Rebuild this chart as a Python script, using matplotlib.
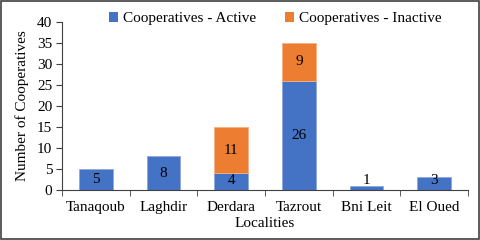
import matplotlib
matplotlib.use("Agg")
import matplotlib.pyplot as plt
import numpy as np
from matplotlib.patches import Rectangle

localities = ["Tanaqoub", "Laghdir", "Derdara", "Tazrout", "Bni Leit", "El Oued"]
active = [5, 8, 4, 26, 1, 3]
inactive = [0, 0, 11, 9, 0, 0]
yticks = [0, 5, 10, 15, 20, 25, 30, 35, 40]

plt.rcParams['font.family'] = ['Liberation Serif', 'DejaVu Serif']

fig = plt.figure(figsize=(4.8, 2.4), dpi=100)
ax = fig.add_axes([62/480, 1-190/240, (468-62)/480, (190-22)/240])

x = np.arange(len(localities))
blue = "#4472C4"
orange = "#ED7D31"
w = 0.5
b1 = ax.bar(x, active, w, color=blue, label="Cooperatives - Active", edgecolor="#8FAADC", linewidth=0.6)
b2 = ax.bar(x, inactive, w, bottom=active, color=orange, label="Cooperatives - Inactive", edgecolor="#F4B183", linewidth=0.6)
for r, v in zip(b2, inactive):
    if v == 0:
        r.set_linewidth(0)

for i in range(len(x)):
    if active[i] > 0:
        ax.text(x[i], max(active[i]/2, 2.3), str(active[i]), ha="center", va="center", fontsize=11, color="black")
    if inactive[i] > 0:
        ax.text(x[i], active[i] + inactive[i]/2, str(inactive[i]), ha="center", va="center", fontsize=11, color="black")

ax.set_xlim(-0.5, len(x)-0.5)
ax.set_ylim(0, 40)
ax.set_yticks(yticks)
ax.set_xticks(x)
ax.set_xticklabels(localities, fontsize=11)
ax.set_xticks(np.arange(-0.5, len(x), 1), minor=True)
ax.tick_params(axis="x", which="major", length=0, pad=8)
ax.tick_params(axis="x", which="minor", length=4, direction="out", color="#404040")
ax.tick_params(axis="y", labelsize=11, length=4, direction="out", color="#404040", pad=3)
for s in ["top", "right"]:
    ax.spines[s].set_visible(False)
ax.spines["left"].set_color("#404040")
ax.spines["bottom"].set_color("#404040")
ax.set_xlabel("Localities", fontsize=11, labelpad=2)
ax.set_ylabel("Number of Cooperatives", fontsize=11, labelpad=6)

leg = ax.legend(loc="upper center", bbox_to_anchor=(0.525, 1.14), ncol=2, frameon=False, fontsize=11,
                handlelength=0.6, handleheight=0.6, handletextpad=0.3, columnspacing=1.9)
for h in leg.legend_handles:
    h.set_linewidth(0)

fig.patches.append(Rectangle((0.002, 0.004), 0.996, 0.992, transform=fig.transFigure,
                             fill=False, edgecolor="#404040", linewidth=1.2))
fig.savefig("out.png", dpi=100)
